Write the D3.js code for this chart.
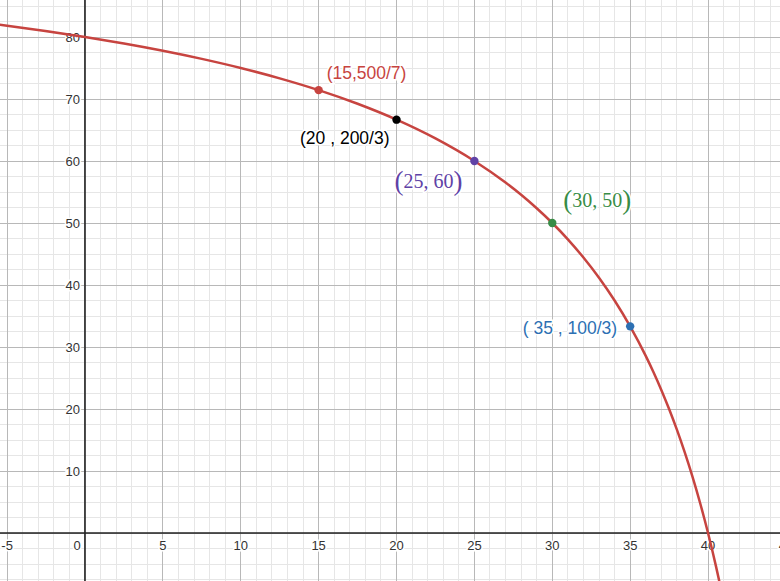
<!DOCTYPE html>
<html><head><meta charset="utf-8">
<script src="https://cdn.jsdelivr.net/npm/d3@7"></script>
<style>html,body{margin:0;padding:0;background:#fff;overflow:hidden}svg{display:block}</style>
</head><body>
<svg id="chart" width="780" height="581"></svg>
<script>
// ---- data ----
const curveX = [-6, -5, 0, 2.5, 5, 7.5, 10, 12.5, 15, 17.5, 20, 22.5, 25, 27, 28, 29, 30, 31, 32, 33, 34, 35, 36, 36.5, 37, 37.5, 38, 38.5, 39, 39.5, 40, 40.5, 41, 41.5];
const curveY = [82.14, 81.82, 80, 78.95, 77.78, 76.47, 75, 73.33, 71.43, 69.23, 66.67, 63.64, 60, 56.52, 54.55, 52.38, 50, 47.37, 44.44, 41.18, 37.5, 33.33, 28.57, 25.93, 23.08, 20.0, 16.67, 13.04, 9.09, 4.76, 0, -5.26, -11.11, -17.65];
const pointX = [15, 20, 25, 30, 35];
const pointY = [71.43, 66.67, 60, 50, 33.33];
const pointLabels = ["(15,500/7)", "(20 , 200/3)", "25, 60", "30, 50", "( 35 , 100/3)"];
const xTickLabels = [-5, 0, 5, 10, 15, 20, 25, 30, 35, 40, 45];
const yTickLabels = [-10, 10, 20, 30, 40, 50, 60, 70, 80];

// ---- layout ----
const W = 780, H = 581;
const x = d3.scaleLinear().domain([-5.457, 44.62]).range([0, W]);
const y = d3.scaleLinear().domain([85.97, -7.742]).range([0, H]);
const svg = d3.select("#chart");

// minor grid
const minorX = d3.range(-6, 46, 1);
const minorY = d3.range(-10, 90, 2.5);
svg.append("g").selectAll("line").data(minorX).join("line")
  .attr("x1", d => x(d)).attr("x2", d => x(d)).attr("y1", 0).attr("y2", H)
  .attr("stroke", "#e6e6e6").attr("stroke-width", 1).attr("shape-rendering", "crispEdges");
svg.append("g").selectAll("line").data(minorY).join("line")
  .attr("y1", d => y(d)).attr("y2", d => y(d)).attr("x1", 0).attr("x2", W)
  .attr("stroke", "#e6e6e6").attr("stroke-width", 1).attr("shape-rendering", "crispEdges");
// major grid
const majorX = d3.range(-5, 46, 5);
const majorY = d3.range(-10, 90, 10);
svg.append("g").selectAll("line").data(majorX).join("line")
  .attr("x1", d => x(d)).attr("x2", d => x(d)).attr("y1", 0).attr("y2", H)
  .attr("stroke", "#b8b8b8").attr("stroke-width", 1).attr("shape-rendering", "crispEdges");
svg.append("g").selectAll("line").data(majorY).join("line")
  .attr("y1", d => y(d)).attr("y2", d => y(d)).attr("x1", 0).attr("x2", W)
  .attr("stroke", "#b8b8b8").attr("stroke-width", 1).attr("shape-rendering", "crispEdges");
// axes
svg.append("line").attr("x1", 0).attr("x2", W).attr("y1", y(0)).attr("y2", y(0))
  .attr("stroke", "#222").attr("stroke-width", 1.6);
svg.append("line").attr("x1", x(0)).attr("x2", x(0)).attr("y1", 0).attr("y2", H)
  .attr("stroke", "#222").attr("stroke-width", 1.6);

// tick labels
const tickFont = "'Liberation Sans', Arial, sans-serif";
svg.append("g").selectAll("text").data(xTickLabels).join("text")
  .attr("x", d => d === 0 ? x(0) - 8 : x(d))
  .attr("y", y(0) + 12)
  .attr("dy", "0.35em")
  .attr("text-anchor", "middle")
  .attr("font-family", tickFont).attr("font-size", 13)
  .attr("fill", "#333")
  .attr("stroke", "#fff").attr("stroke-width", 3).attr("paint-order", "stroke")
  .text(d => d);
svg.append("g").selectAll("text").data(yTickLabels).join("text")
  .attr("x", x(0) - 5)
  .attr("y", d => Math.min(y(d), H + 6))
  .attr("dy", "0.35em")
  .attr("text-anchor", "end")
  .attr("font-family", tickFont).attr("font-size", 13)
  .attr("fill", "#333")
  .attr("stroke", "#fff").attr("stroke-width", 3).attr("paint-order", "stroke")
  .text(d => d);

// curve
const curveData = curveX.map((v, i) => [v, curveY[i]]);
const line = d3.line().x(d => x(d[0])).y(d => y(d[1])).curve(d3.curveMonotoneX);
svg.append("path").datum(curveData).attr("d", line)
  .attr("fill", "none").attr("stroke", "#c74440").attr("stroke-width", 2.5);

// points
const colors = ["#c74440", "#000000", "#6042a6", "#388c46", "#2d70b3"];
const pts = pointX.map((v, i) => ({x: v, y: pointY[i], label: pointLabels[i], color: colors[i]}));
svg.append("g").selectAll("circle").data(pts).join("circle")
  .attr("cx", d => x(d.x)).attr("cy", d => y(d.y)).attr("r", 4.2)
  .attr("fill", d => d.color);

// labels
const place = [[8, -17, "start", "sans"], [-7, 18, "end", "sans"], [-12, 21, "end", "serif"], [11, -22, "start", "serif"], [-13, 2, "end", "sans"]];
pts.forEach((d, i) => {
  const [dx, dy, anchor, kind] = place[i];
  const t = svg.append("text")
    .attr("x", x(d.x) + dx).attr("y", y(d.y) + dy)
    .attr("dy", "0.35em")
    .attr("text-anchor", anchor)
    .attr("fill", d.color)
    .attr("stroke", "#fff").attr("stroke-width", 3).attr("paint-order", "stroke");
  if (kind === "sans") {
    t.attr("font-family", tickFont).attr("font-size", 17.5).text(d.label);
  } else {
    t.attr("font-family", "'Liberation Serif', 'DejaVu Serif', serif");
    t.append("tspan").attr("font-size", 27).attr("dy", "0.3em").text("(");
    t.append("tspan").attr("font-size", 20).attr("dy", "-0.12em").text(d.label);
    t.append("tspan").attr("font-size", 27).attr("dy", "0.1em").text(")");
  }
});
</script>
</body></html>
